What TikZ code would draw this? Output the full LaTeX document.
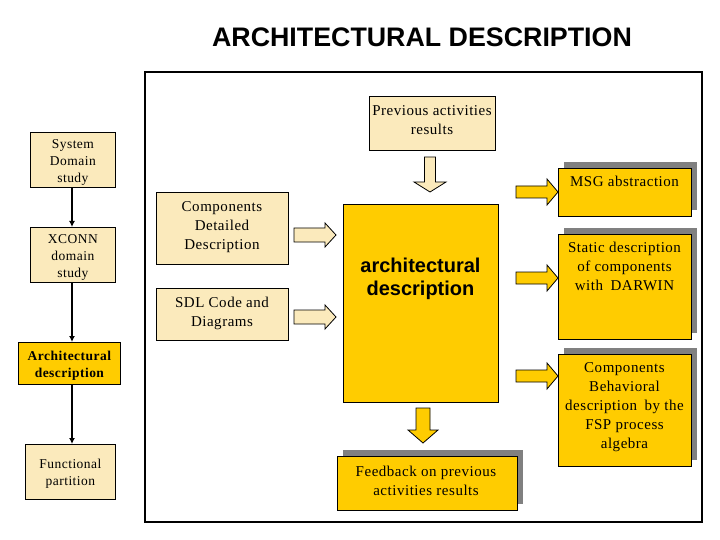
\documentclass[tikz,border=0pt]{standalone}
\usepackage{fontspec}
\setmainfont[LetterSpace=3.5]{Liberation Serif}
\newfontfamily\arial{Liberation Sans}
\usetikzlibrary{shadows}
\definecolor{lightbox}{RGB}{251,234,188}
\definecolor{goldbox}{RGB}{255,204,0}
\definecolor{shadowgray}{RGB}{128,128,128}
\tikzset{
  lbox/.style={draw=black, line width=0.8pt, fill=lightbox, inner sep=0pt, anchor=north west, align=center},
  gbox/.style={draw=black, line width=0.8pt, fill=goldbox, inner sep=0pt, anchor=north west, align=center},
  sbox/.style={gbox, drop shadow={shadow xshift=6pt, shadow yshift=6pt, fill=shadowgray, opacity=1}},
  ltext/.style={font=\fontsize{13.5}{17}\selectfont, align=center, inner sep=0pt},
  rtext/.style={font=\fontsize{15}{19}\selectfont, align=center, inner sep=0pt},
  flow/.style={draw=black, line width=2pt, -{Latex[length=6pt,width=6pt]}},
  larrow/.style={draw=black, line width=0.8pt, fill=lightbox, line join=miter},
  garrow/.style={draw=black, line width=0.8pt, fill=goldbox, line join=miter},
}
\usetikzlibrary{arrows.meta}
\begin{document}
\begin{tikzpicture}[x=1pt, y=-1pt]
\useasboundingbox (0,0) rectangle (720,540);
\fill[white] (0,0) rectangle (720,540);

% title
\node[font=\arial\bfseries\fontsize{26.8}{30}\selectfont, inner sep=0pt] (title) at (422,37) {ARCHITECTURAL DESCRIPTION};

% frame
\draw[line width=1.3pt] (145,72) rectangle (702,522);

% left column
\node[lbox, minimum width=85pt, minimum height=55pt] (sys) at (30,132) {};
\node[ltext] at ([yshift=-3pt]sys.center) {System\\Domain\\study};
\node[lbox, minimum width=85pt, minimum height=55pt] (xconn) at (30,227) {};
\node[ltext] at ([yshift=-3pt]xconn.center) {XCONN\\domain\\study};
\node[gbox, minimum width=102pt, minimum height=42pt] (arch) at (18,342) {};
\node[ltext, font=\bfseries\fontsize{13.5}{17}\selectfont] at ([yshift=-2pt]arch.center) {Architectural\\description};
\node[lbox, minimum width=90pt, minimum height=55pt] (func) at (25,444) {};
\node[ltext] at ([yshift=-2pt]func.center) {Functional\\partition};

\draw[flow] (sys.south -| 72,0) -- (xconn.north -| 72,0);
\draw[flow] (xconn.south -| 72,0) -- (arch.north -| 72,0);
\draw[flow] (arch.south -| 72,0) -- (func.north -| 72,0);

% inner light boxes
\node[lbox, minimum width=132pt, minimum height=72pt] (comp) at (156,192) {};
\node[rtext] at (222,227) {Components\\Detailed\\Description};
\node[lbox, minimum width=132pt, minimum height=52pt] (sdl) at (156,288) {};
\node[rtext] at (222,313) {SDL Code and\\Diagrams};
\node[lbox, minimum width=126pt, minimum height=54pt] (prev) at (369,96) {};
\node[rtext] at (432,120.5) {Previous activities\\results};

% central box
\node[gbox, minimum width=155pt, minimum height=198pt] (center) at (343,204) {};
\node[font=\arial\bfseries\fontsize{20}{23}\selectfont, align=center, inner sep=0pt] at (420.5,278.5) {architectural\\description};

% hollow arrows into center
\draw[larrow] (294,228) -- (325,228) -- (325,223) -- (336,235) -- (325,247) -- (325,242) -- (294,242) -- cycle;
\draw[larrow] (294,310) -- (325,310) -- (325,305) -- (336,317) -- (325,329) -- (325,324) -- (294,324) -- cycle;
\draw[larrow] (424.5,157) -- (435.5,157) -- (435.5,182) -- (446,182) -- (430,192) -- (414,182) -- (424.5,182) -- cycle;

% gold arrow down
\draw[garrow] (416,408) -- (430,408) -- (430,430) -- (438,430) -- (423,443) -- (408,430) -- (416,430) -- cycle;

% feedback box
\node[sbox, minimum width=180pt, minimum height=54pt] (feed) at (337,456) {};
\node[rtext] at (426,481) {Feedback on previous\\activities results};

% right column
\node[sbox, minimum width=133pt, minimum height=48pt] (msg) at (558,168) {};
\node[rtext, anchor=north] at (624.5,176) {MSG abstraction};
\node[sbox, minimum width=133pt, minimum height=105pt] (static) at (558,234) {};
\node[rtext, anchor=north] at (624.5,242) {Static description\\of components\\with\enspace DARWIN};
\node[sbox, minimum width=133pt, minimum height=112pt] (behav) at (558,354) {};
\node[rtext, anchor=north] at (624.5,362) {Components\\Behavioral\\description\enspace by the\\FSP process\\algebra};

% gold arrows out
\draw[garrow] (516,186) -- (547,186) -- (547,179) -- (558,192) -- (547,205) -- (547,198) -- (516,198) -- cycle;
\draw[garrow] (516,272) -- (547,272) -- (547,265) -- (558,278) -- (547,291) -- (547,284) -- (516,284) -- cycle;
\draw[garrow] (516,370) -- (547,370) -- (547,363) -- (558,376) -- (547,389) -- (547,382) -- (516,382) -- cycle;
\end{tikzpicture}
\end{document}
